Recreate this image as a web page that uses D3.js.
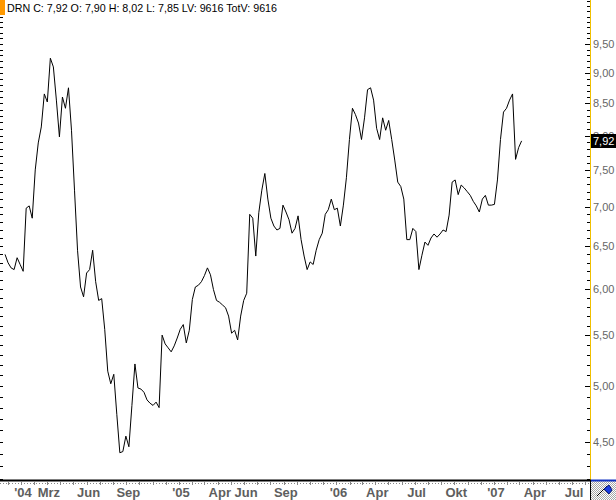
<!DOCTYPE html>
<html><head><meta charset="utf-8">
<script src="https://cdn.jsdelivr.net/npm/d3@7"></script>
<style>body{margin:0;background:#fff;overflow:hidden} svg{display:block}</style>
</head><body>
<svg id="c" width="616" height="500"></svg>
<script>
// ---- data ----
const startDate = "2003-11-25"; // first weekly close
const closes = [
6.40,6.30,6.24,6.22,6.36,6.28,6.20,6.98,7.01,6.85,
7.50,7.89,8.13,8.65,8.52,9.25,9.10,8.55,7.98,8.60,
8.42,8.75,8.08,7.22,6.45,6.02,5.91,6.18,6.22,6.45,
6.08,5.87,5.89,5.56,5.14,5.02,5.11,4.74,4.41,4.42,
4.55,4.46,4.82,5.21,4.98,4.97,4.94,4.87,4.84,4.82,
4.85,4.80,5.50,5.41,5.37,5.33,5.39,5.47,5.56,5.61,
5.42,5.55,5.88,6.02,6.04,6.08,6.15,6.24,6.16,5.99,
5.87,5.85,5.82,5.79,5.70,5.52,5.55,5.45,5.70,5.87,
5.95,6.90,6.85,6.38,6.92,7.22,7.45,7.10,6.85,6.75,
6.70,6.72,7.02,6.93,6.83,6.66,6.72,6.88,6.58,6.38,
6.22,6.31,6.28,6.45,6.58,6.66,6.90,6.96,7.10,6.96,
6.98,6.75,7.02,7.39,7.94,8.42,8.32,8.19,7.94,8.27,
8.72,8.75,8.55,8.11,7.94,8.27,8.08,8.23,7.94,7.64,
7.33,7.27,7.10,6.58,6.58,6.72,6.68,6.22,6.39,6.55,
6.51,6.60,6.65,6.61,6.65,6.70,6.68,6.89,7.33,7.36,
7.16,7.29,7.25,7.20,7.15,7.07,7.01,6.93,7.10,7.15,
7.02,7.02,7.03,7.36,7.94,8.36,8.42,8.55,8.65,7.65,
7.82,7.92
];
const yTickValues = [4.5,5.0,5.5,6.0,6.5,7.0,7.5,8.0,8.5,9.0,9.5];
const xTickDates = ["2004-01-01","2004-03-01","2004-06-01","2004-09-01","2005-01-01","2005-04-01","2005-06-01","2005-09-01","2006-01-01","2006-04-01","2006-07-01","2006-10-01","2007-01-01","2007-04-01","2007-07-01"];
const xTickLabels = ["'04","Mrz","Jun","Sep","'05","Apr","Jun","Sep","'06","Apr","Jul","Okt","'07","Apr","Jul"];
const lastValue = 7.92;
const titleText = "DRN C: 7,92 O: 7,90 H: 8,02 L: 7,85 LV: 9616 TotV: 9616";

// ---- layout ----
const W = 616, H = 500;
const axisX = 590, plotBottom = 480;
const parse = d3.timeParse("%Y-%m-%d");
const t0 = parse(startDate);
const series = closes.map((v, i) => ({date: d3.timeDay.offset(t0, 7 * i), v}));

const x = d3.scaleTime()
  .domain([parse("2004-01-01"), parse("2007-01-01")])
  .range([21, 494]);
const y = d3.scaleLog().domain([4.5, 9.5]).range([442, 44]);
const fmt = v => d3.format(".2f")(v).replace(".", ",");

const svg = d3.select("#c");

// checker pattern for corner box
const defs = svg.append("defs");
const pat = defs.append("pattern").attr("id", "chk").attr("width", 2).attr("height", 2)
  .attr("patternUnits", "userSpaceOnUse");
pat.append("rect").attr("width", 2).attr("height", 2).attr("fill", "#ffffff");
pat.append("rect").attr("width", 1).attr("height", 1).attr("fill", "#a8a8a8");
pat.append("rect").attr("x", 1).attr("y", 1).attr("width", 1).attr("height", 1).attr("fill", "#a8a8a8");

// minor ticks every 0.1 (log positions)
const minor = d3.range(42, 104).map(k => k / 10).filter(v => y(v) >= 0 && y(v) <= plotBottom - 1);
svg.append("g").selectAll("line.lm").data(minor).join("line")
  .attr("x1", 0).attr("x2", 3)
  .attr("y1", d => Math.round(y(d)) + 0.5).attr("y2", d => Math.round(y(d)) + 0.5)
  .attr("stroke", "#000").attr("stroke-width", 1);
svg.append("g").selectAll("line.rm").data(minor).join("line")
  .attr("x1", axisX - 3).attr("x2", axisX)
  .attr("y1", d => Math.round(y(d)) + 0.5).attr("y2", d => Math.round(y(d)) + 0.5)
  .attr("stroke", "#000").attr("stroke-width", 1);
// major ticks
svg.append("g").selectAll("line").data(yTickValues).join("line")
  .attr("x1", axisX - 5).attr("x2", axisX)
  .attr("y1", d => Math.round(y(d)) + 0.5).attr("y2", d => Math.round(y(d)) + 0.5)
  .attr("stroke", "#000").attr("stroke-width", 1);

// y axis line (yellow)
svg.append("line").attr("x1", axisX + 0.5).attr("x2", axisX + 0.5).attr("y1", 0).attr("y2", plotBottom)
  .attr("stroke", "#f0c000").attr("stroke-width", 1);

// y labels
svg.append("g").selectAll("text").data(yTickValues).join("text")
  .attr("x", axisX + 3).attr("y", d => y(d) + 4)
  .attr("font-family", "Liberation Sans, Arial, sans-serif").attr("font-size", 11)
  .attr("fill", "#666").text(fmt);

// price line
const line = d3.line().x(d => x(d.date)).y(d => y(d.v));
svg.append("path").datum(series).attr("d", line)
  .attr("fill", "none").attr("stroke", "#000").attr("stroke-width", 1)
  .attr("stroke-linejoin", "miter");

// last value label
const ly = y(lastValue);
svg.append("rect").attr("x", axisX + 1).attr("y", Math.round(ly) - 7).attr("width", W - axisX - 1).attr("height", 14)
  .attr("fill", "#000");
svg.append("text").attr("x", axisX + 3).attr("y", Math.round(ly) + 4)
  .attr("font-family", "Liberation Sans, Arial, sans-serif").attr("font-size", 11)
  .attr("fill", "#fff").text(fmt(lastValue));

// bottom axis
svg.append("line").attr("x1", 0).attr("x2", axisX + 1).attr("y1", plotBottom + 0.5).attr("y2", plotBottom + 0.5)
  .attr("stroke", "#000").attr("stroke-width", 2);
svg.append("line").attr("x1", 0).attr("x2", axisX).attr("y1", plotBottom + 3.5).attr("y2", plotBottom + 3.5)
  .attr("stroke", "#888").attr("stroke-width", 1).attr("stroke-dasharray", "1,2");
const months = d3.timeMonth.range(parse("2003-12-01"), parse("2007-09-01"))
  .filter(d => x(d) > 0 && x(d) < axisX);
svg.append("g").selectAll("line").data(months).join("line")
  .attr("x1", d => Math.round(x(d)) + 0.5).attr("x2", d => Math.round(x(d)) + 0.5)
  .attr("y1", plotBottom + 2).attr("y2", plotBottom + 5)
  .attr("stroke", "#888").attr("stroke-width", 1);
svg.append("g").selectAll("text").data(xTickDates).join("text")
  .attr("x", d => x(parse(d)) + 2).attr("y", 497)
  .attr("text-anchor", "middle")
  .attr("font-family", "Liberation Sans Narrow, Arial Narrow, Liberation Sans, sans-serif")
  .attr("font-weight", "bold").attr("font-size", 13)
  .attr("fill", "#5e5e5e")
  .text((d, i) => xTickLabels[i]);

// corner box
svg.append("rect").attr("x", axisX + 1).attr("y", plotBottom + 1).attr("width", W - axisX - 1).attr("height", H - plotBottom - 1)
  .attr("fill", "url(#chk)");
svg.append("line").attr("x1", axisX + 0.5).attr("x2", axisX + 0.5).attr("y1", plotBottom).attr("y2", H)
  .attr("stroke", "#000");
svg.append("line").attr("x1", axisX + 1).attr("x2", W).attr("y1", plotBottom + 0.5).attr("y2", plotBottom + 0.5)
  .attr("stroke", "#1030c0").attr("stroke-width", 2);
svg.append("line").attr("x1", 597).attr("y1", 496).attr("x2", 607).attr("y2", 486)
  .attr("stroke", "#000").attr("stroke-width", 1);
svg.append("path").attr("d", "M604,489 L609,485 L612,490 L609,494 Z").attr("fill", "#1a3de0").attr("stroke", "#0a1a80");

// title
svg.append("rect").attr("x", 0).attr("y", 0).attr("width", 5).attr("height", 15).attr("fill", "#ff9900");
svg.append("text").attr("x", 7).attr("y", 12)
  .attr("font-family", "Liberation Sans, Arial, sans-serif").attr("font-size", 11.5)
  .attr("fill", "#000")
  .attr("textLength", 270).attr("lengthAdjust", "spacingAndGlyphs")
  .text(titleText);
</script>
</body></html>
